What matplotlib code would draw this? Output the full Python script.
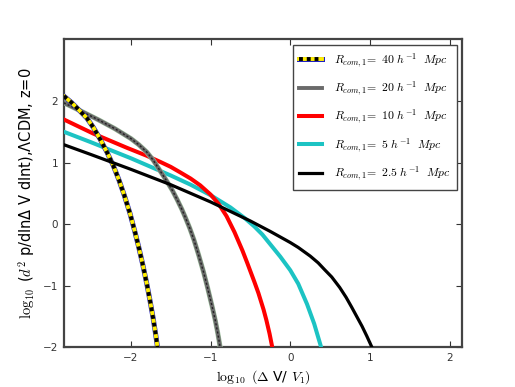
import matplotlib
matplotlib.use("Agg")
import matplotlib.pyplot as plt

plt.rcParams['mathtext.fontset'] = 'cm'

# values
x_40 = [-2.84, -2.74, -2.64, -2.55, -2.47, -2.385, -2.3, -2.22, -2.15, -2.08, -2.01,
        -1.95, -1.9, -1.85, -1.8, -1.76, -1.72, -1.69, -1.67, -1.66]
y_40 = [2.08, 1.97, 1.84, 1.72, 1.57, 1.38, 1.17, 0.95, 0.72, 0.46, 0.17,
        -0.12, -0.38, -0.66, -0.97, -1.24, -1.53, -1.78, -1.96, -2.1]

x_20 = [-2.84, -2.6, -2.4, -2.2, -2.0, -1.9, -1.8, -1.72, -1.64, -1.55, -1.48,
        -1.42, -1.36, -1.32, -1.26, -1.21, -1.15, -1.09, -1.04, -0.98, -0.94, -0.91,
        -0.89, -0.87]
y_20 = [1.97, 1.82, 1.69, 1.55, 1.39, 1.29, 1.17, 1.04, 0.88, 0.70, 0.55,
        0.40, 0.24, 0.12, -0.07, -0.25, -0.50, -0.77, -1.02, -1.34, -1.57, -1.77,
        -1.92, -2.08]

x_10 = [-2.84, -2.47, -2.05, -1.8, -1.63, -1.5, -1.38, -1.25, -1.13, -1.0, -0.9,
        -0.8, -0.7, -0.6, -0.54, -0.45, -0.4, -0.335, -0.3, -0.26, -0.22]
y_10 = [1.70, 1.47, 1.24, 1.11, 1.01, 0.93, 0.84, 0.74, 0.63, 0.48, 0.33,
        0.13, -0.13, -0.43, -0.63, -0.94, -1.12, -1.39, -1.56, -1.78, -2.04]

x_5 = [-2.84, -2.5, -2.0, -1.5, -1.25, -1.0, -0.75, -0.565, -0.45, -0.35, -0.25,
       -0.125, 0.0, 0.1, 0.21, 0.3, 0.38, 0.41]
y_5 = [1.50, 1.33, 1.07, 0.79, 0.64, 0.47, 0.27, 0.09, -0.04, -0.17, -0.33,
       -0.53, -0.75, -0.97, -1.30, -1.62, -1.97, -2.12]

x_25 = [-2.84, -2.5, -2.0, -1.5, -1.0, -0.5, -0.25, 0.0, 0.1, 0.25, 0.35, 0.43,
        0.52, 0.62, 0.7, 0.77, 0.9, 0.96, 1.02, 1.05]
y_25 = [1.29, 1.13, 0.89, 0.64, 0.36, 0.05, -0.12, -0.30, -0.38, -0.52, -0.63, -0.74,
        -0.86, -1.03, -1.19, -1.35, -1.66, -1.82, -1.99, -2.08]

labels = [r'$R_{com,1}\!=\ 40\ h^{-1}\ \ Mpc$',
          r'$R_{com,1}\!=\ 20\ h^{-1}\ \ Mpc$',
          r'$R_{com,1}\!=\ 10\ h^{-1}\ \ Mpc$',
          r'$R_{com,1}\!=\ 5\ h^{-1}\ \ Mpc$',
          r'$R_{com,1}\!=\ 2.5\ h^{-1}\ \ Mpc$']

fig = plt.figure(figsize=(5.15, 3.87), dpi=100)
ax = fig.add_subplot(111)
fig.subplots_adjust(left=0.124, right=0.898, bottom=0.103, top=0.898)

# 40: yellow with black dashes and a thin blue rim
a1, = ax.plot(x_40, y_40, color='#2020c0', lw=3.6, zorder=6)
a2, = ax.plot(x_40, y_40, color='#ffee00', lw=2.8, zorder=6)
a3, = ax.plot(x_40, y_40, color='black', lw=2.8, dashes=(1, 1), zorder=6)

# 20: grey with dark dots
b1, = ax.plot(x_20, y_20, color='#9fc09f', lw=3.6, zorder=5)
b2, = ax.plot(x_20, y_20, color='#6a6a6a', lw=2.8, zorder=5)
b3, = ax.plot(x_20, y_20, color='#222222', lw=1.0, dashes=(1.5, 1.5), zorder=5)

c1, = ax.plot(x_10, y_10, color='red', lw=2.9, zorder=4)
d1, = ax.plot(x_5, y_5, color='#1cc3c3', lw=2.9, zorder=3)
e1, = ax.plot(x_25, y_25, color='black', lw=2.3, zorder=7)

ax.set_xlim(-2.84, 2.16)
ax.set_ylim(-2, 3)
ax.set_xticks([-2, -1, 0, 1, 2])
ax.set_yticks([-2, -1, 0, 1, 2])
ax.tick_params(direction='in', top=True, right=True, length=4, width=0.8,
               labelsize=7.5, colors='#333333', pad=4)
for s in ax.spines.values():
    s.set_color('#444444')
    s.set_linewidth(1.6)

ax.set_xlabel(r'$\log_{10}\ (\Delta$ V/ $V_1)$', fontsize=10)
ax.set_ylabel(r'$\log_{10}$ ($d^2$ p/dlnΔ V dlnt),ΛCDM, z=0', fontsize=10.5)

leg = ax.legend([(a1, a2, a3), (b2,), (c1,), (d1,), (e1,)], labels,
                loc='upper right', fontsize=8.5, handlelength=1.9,
                labelspacing=0.85, borderpad=0.55, handletextpad=1.0,
                fancybox=False, framealpha=1, borderaxespad=0.45)
leg.get_frame().set_edgecolor('#444444')
leg.get_frame().set_linewidth(1.0)

fig.savefig('out.png', dpi=100)
